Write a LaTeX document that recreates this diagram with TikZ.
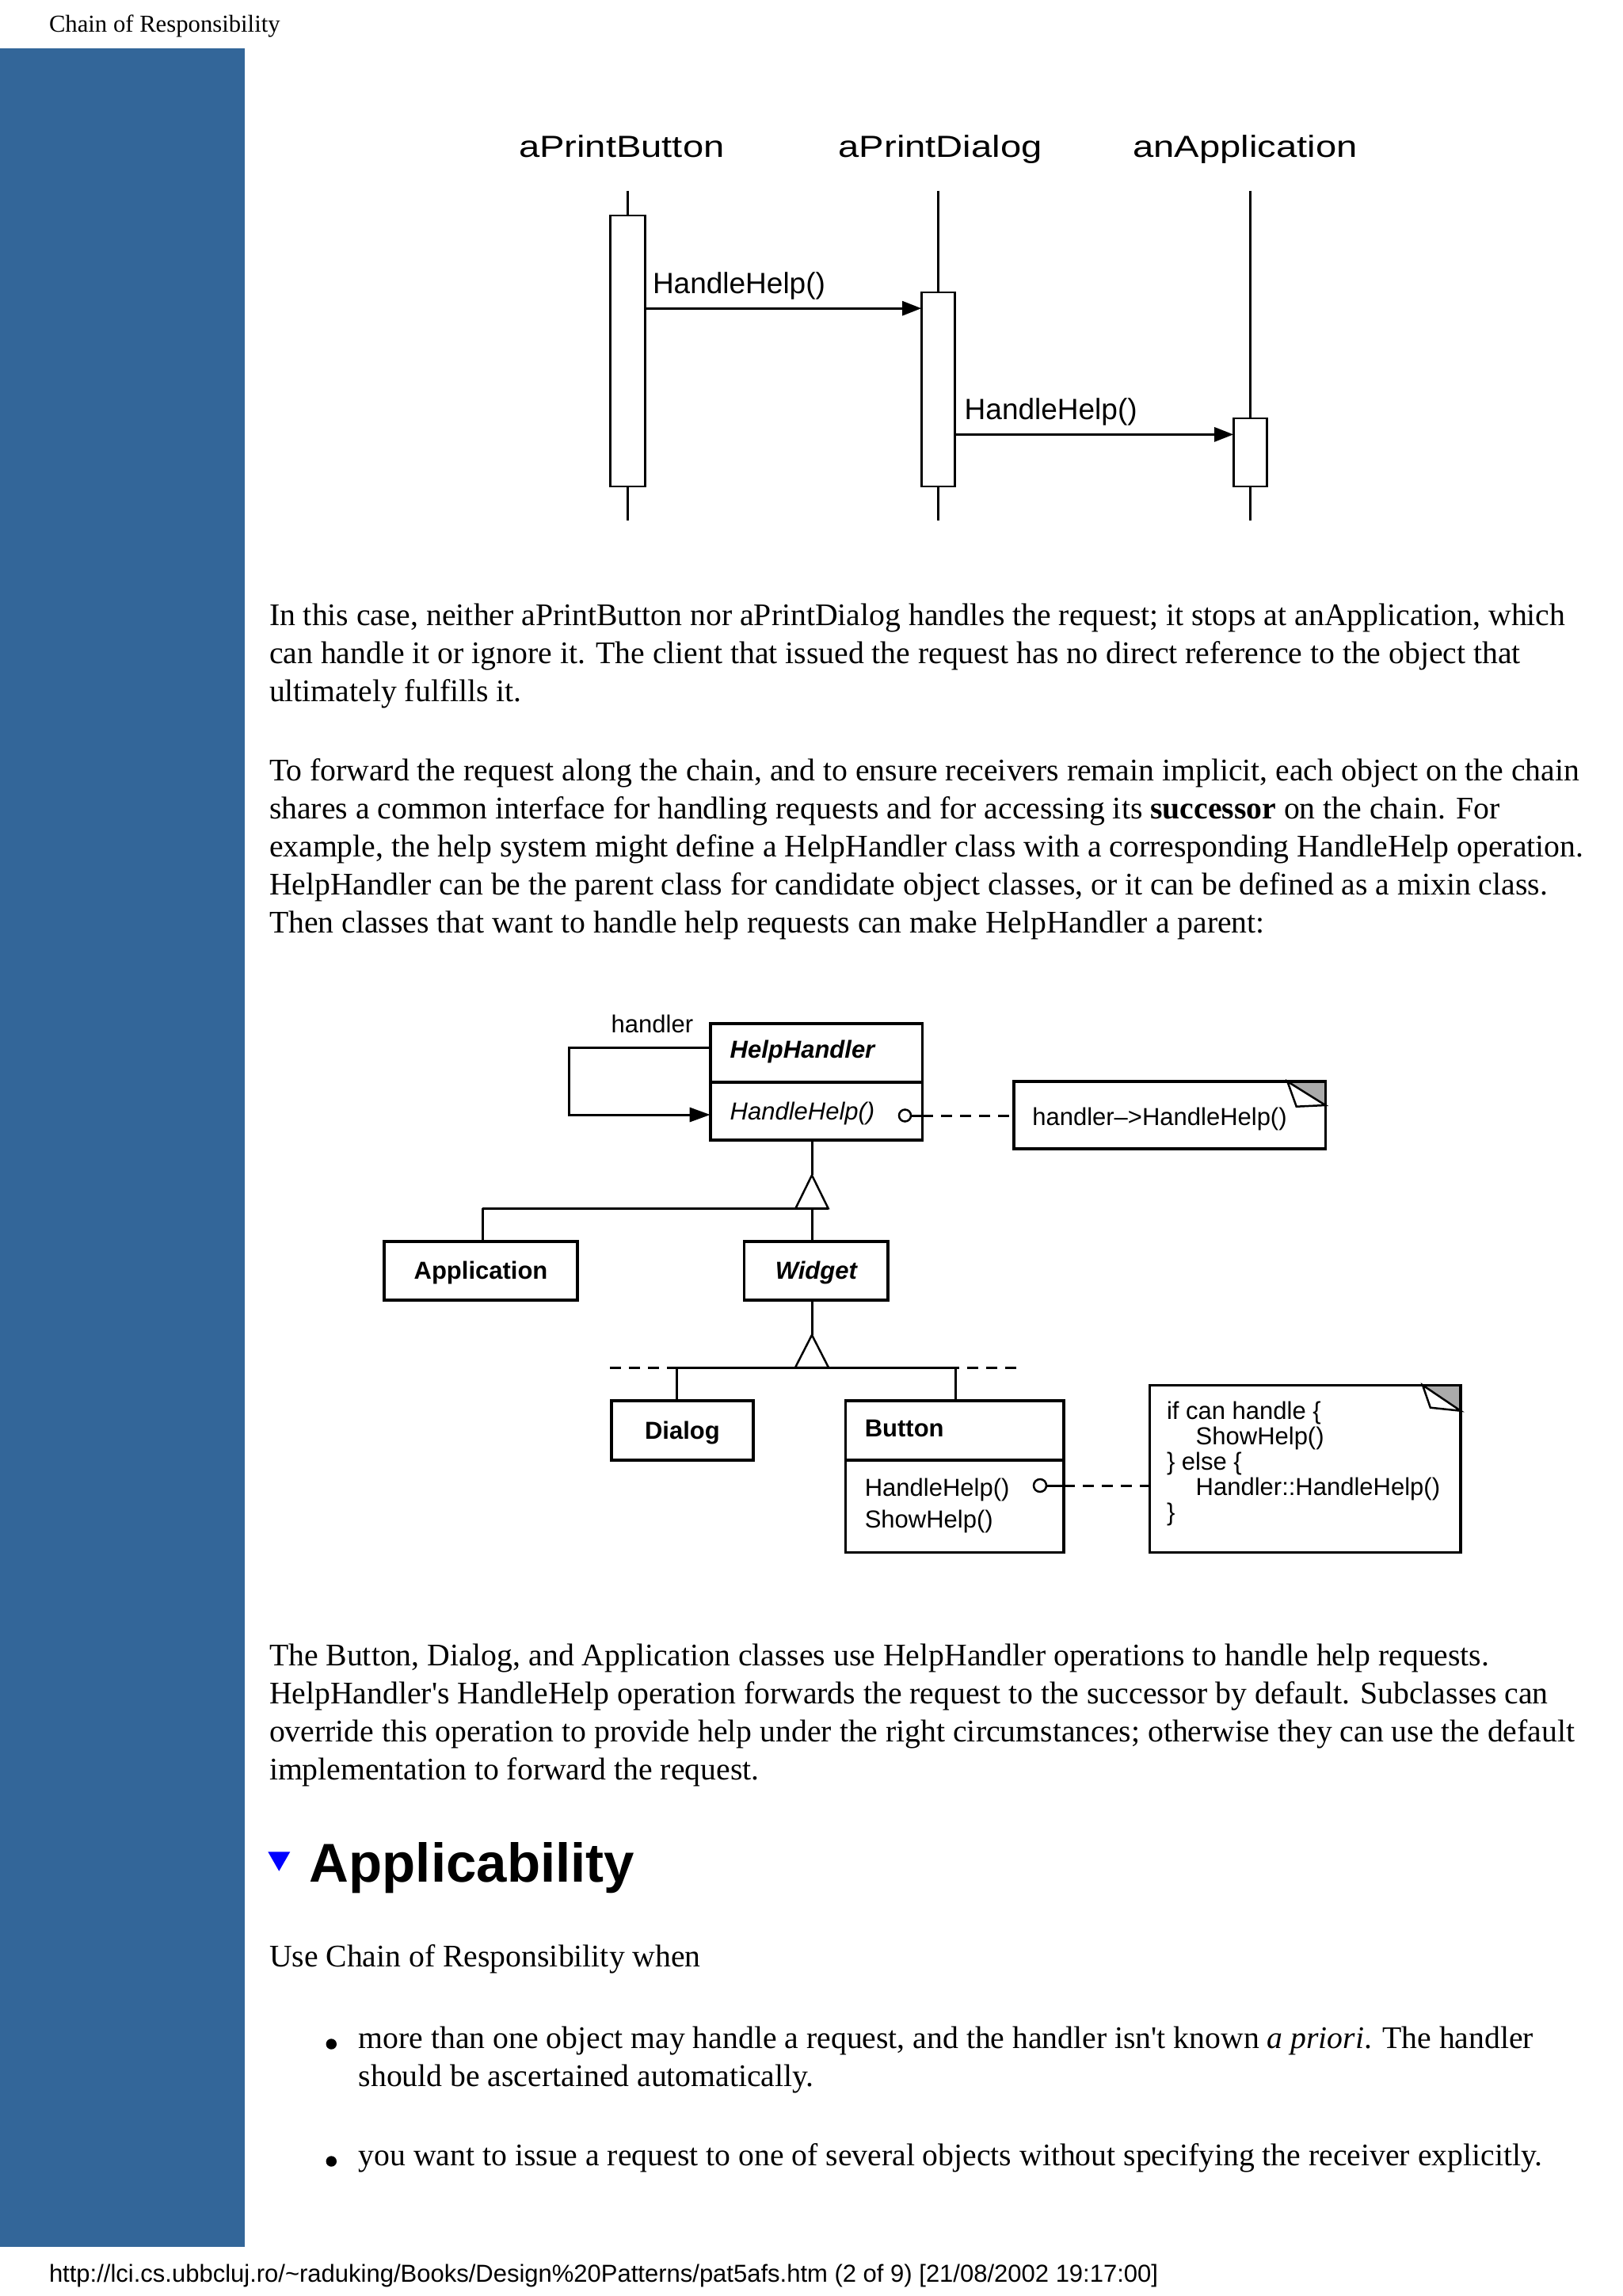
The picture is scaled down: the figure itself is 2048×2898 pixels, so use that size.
\documentclass[tikz,border=0pt]{standalone}
\usepackage{fontspec}
\setmainfont{Liberation Serif}
\newfontfamily\arial{Liberation Sans}
\newfontfamily\arialwide[FakeStretch=1.225]{Liberation Sans}
\usetikzlibrary{arrows.meta}
\definecolor{barblue}{RGB}{51,102,153}
\definecolor{cornergrey}{RGB}{170,170,170}
\newcommand\setfs[1]{\fontsize{#1}{#1}\selectfont}
\begin{document}
\begin{tikzpicture}[x=1pt,y=-1pt,
  txt/.style={anchor=base west, inner sep=0pt, outer sep=0pt},
  body/.style={txt, font=\setfs{39.7}},
  seqhead/.style={txt, font=\arialwide\setfs{38.5}},
  seqlbl/.style={txt, font=\arial\setfs{37}},
  actbox/.style={draw, line width=2.8pt, fill=white, inner sep=0pt, outer sep=0pt},
  lifeline/.style={line width=2.8pt},
  msg/.style={line width=2.8pt, -{Triangle[length=24pt,width=18pt]}},
  boxonly/.style={draw, line width=3.6pt, fill=white, inner sep=0pt, outer sep=0pt},
  cls/.style={boxonly, font=\arial\bfseries\setfs{31}, text height=22pt, text depth=0pt},
  ctext/.style={txt, font=\arial\setfs{31}},
  conn/.style={line width=3pt},
  gen/.style={line width=2.5pt, fill=white, line join=miter},
  dashline/.style={line width=3pt, dash pattern=on 14pt off 10pt},
  lolli/.style={draw, circle, line width=2.5pt, minimum size=15pt, inner sep=0pt, outer sep=0pt, fill=white},
  flap/.style={fill=white, draw, line width=2.5pt, line join=miter}
]
\useasboundingbox (0,0) rectangle (2048,2898);
\fill[white] (0,0) rectangle (2048,2898);

% header, side bar, footer
\node[txt, font=\setfs{30.7}] (hdr) at (62,40.7) {Chain of Responsibility};
\fill[barblue] (0,61) rectangle (309,2836);
\node[txt, font=\arial\setfs{31}] (ftr) at (62,2880) {http://lci.cs.ubbcluj.ro/\textasciitilde raduking/Books/Design\%20Patterns/pat5afs.htm (2 of 9) [21/08/2002 19:17:00]};

% ---------------- sequence diagram ----------------
\node[seqhead] (hB) at (655,198.3) {aPrintButton};
\node[seqhead] (hD) at (1058.6,198.3) {aPrintDialog};
\node[seqhead] (hA) at (1430.4,198.3) {anApplication};

\coordinate (l1t) at (792.5,240.5);  \coordinate (l1b) at (792.5,657);
\coordinate (l2t) at (1184.5,240.5); \coordinate (l2b) at (1184.5,657);
\coordinate (l3t) at (1578.5,240.5); \coordinate (l3b) at (1578.5,657);

\node[actbox, minimum width=43.3, minimum height=342] (b1) at (792.5,443) {};
\node[actbox, minimum width=42.6, minimum height=245.1] (b2) at (1184.5,491.45) {};
\node[actbox, minimum width=42.6, minimum height=86] (b3) at (1578.5,571) {};

\draw[lifeline] (l1t) -- (b1.north);  \draw[lifeline] (b1.south) -- (l1b);
\draw[lifeline] (l2t) -- (b2.north);  \draw[lifeline] (b2.south) -- (l2b);
\draw[lifeline] (l3t) -- (b3.north);  \draw[lifeline] (b3.south) -- (l3b);

\coordinate (m1) at (0,389.2);
\coordinate (m2) at (0,548.4);
\draw[msg] (b1.east |- m1) -- (b2.west |- m1);
\draw[msg] (b2.east |- m2) -- (b3.west |- m2);
\node[seqlbl] (lbl1) at (824,370.3) {HandleHelp()};
\node[seqlbl] (lbl2) at (1217.7,529.2) {HandleHelp()};

% ---------------- body text ----------------
\node[body] (p1a) at (340,789.3) {In this case, neither aPrintButton nor aPrintDialog handles the request; it stops at anApplication, which};
\node[body] (p1b) at (340,837.3) {can handle it or ignore it. The client that issued the request has no direct reference to the object that};
\node[body] (p1c) at (340,885.3) {ultimately fulfills it.};

\node[body] (p2a) at (340,985) {To forward the request along the chain, and to ensure receivers remain implicit, each object on the chain};
\node[body] (p2b) at (340,1033) {shares a common interface for handling requests and for accessing its \textbf{successor} on the chain. For};
\node[body] (p2c) at (340,1081) {example, the help system might define a HelpHandler class with a corresponding HandleHelp operation.};
\node[body] (p2d) at (340,1129) {HelpHandler can be the parent class for candidate object classes, or it can be defined as a mixin class.};
\node[body] (p2e) at (340,1177) {Then classes that want to handle help requests can make HelpHandler a parent:};

% ---------------- class diagram ----------------
\node[boxonly, minimum width=267.6, minimum height=73.7] (hh) at (1030.5,1328.85) {};
\node[boxonly, minimum width=267.6, minimum height=73.3] (hhb) at (1030.5,1402.35) {};
\node[ctext, font=\arial\bfseries\itshape\setfs{31}] (hhn) at (921.7,1335) {HelpHandler};
\node[ctext, font=\arial\itshape\setfs{31}] (hhop) at (921.7,1413.3) {HandleHelp()};
\node[ctext] (hlab) at (771.7,1303.3) {handler};

\coordinate (lpT) at (718.5,1322.3);
\coordinate (lpB) at (718.5,1407);
\draw[conn, -{Triangle[length=26pt,width=18pt]}] (hh.west |- lpT) -- (lpT) -- (lpB) -- (hhb.west |- lpB);

\node[lolli] (lol1) at (1142.5,1408) {};
\node[boxonly, minimum width=393.3, minimum height=85] (n1) at (1476.65,1407.5) {};
\fill[cornergrey] (1625.3,1365) -- (1673.3,1365) -- (1673.3,1395) -- cycle;
\draw[line width=3.6pt] (n1.south west) rectangle (n1.north east);
\draw[flap] (1625.3,1365) -- (1636.7,1396.7) -- (1673.3,1395) -- cycle;
\node[ctext] (n1t) at (1303.3,1420) {handler\textendash{}>HandleHelp()};
\draw[conn] (lol1.east) -- (hhb.east |- lol1);
\draw[dashline] (hhb.east |- lol1) -- (n1.west |- lol1);

% generalization 1
\coordinate (t1apex) at (1025,1483.3);
\coordinate (t1L) at (1004.5,1525);
\coordinate (t1R) at (1045.5,1525);
\coordinate (bar1L) at (609.4,1525);
\node[cls, minimum width=244, minimum height=74.3] (app) at (607,1603.85) {Application};
\node[cls, font=\arial\bfseries\itshape\setfs{31}, minimum width=181.7, minimum height=74.3] (wid) at (1030.35,1603.85) {Widget};
\draw[conn] (t1apex |- hhb.south) -- (t1apex);
\draw[conn] (bar1L) -- (t1R);
\draw[conn] (bar1L) -- (bar1L |- app.north);
\draw[conn] (t1apex |- t1L) -- (t1apex |- wid.north);
\draw[gen] (t1apex) -- (t1L) -- (t1R) -- cycle;

% generalization 2
\coordinate (t2apex) at (1025,1685);
\coordinate (t2L) at (1004,1726);
\coordinate (t2R) at (1046,1726);
\coordinate (bar2L) at (854.6,1726);
\coordinate (bar2R) at (1206.6,1726);
\coordinate (dashL) at (770.4,1726);
\coordinate (dashR) at (1283.2,1726);
\node[cls, minimum width=179.1, minimum height=75] (dlg) at (861.45,1805.2) {Dialog};
\node[boxonly, minimum width=275.5, minimum height=75] (btn) at (1205.05,1805.2) {};
\node[boxonly, minimum width=275.5, minimum height=116.6] (btnb) at (1205.05,1901) {};
\node[ctext, font=\arial\bfseries\setfs{31}] (btnn) at (1091.8,1813.3) {Button};
\node[ctext] (btno1) at (1091.8,1888.3) {HandleHelp()};
\node[ctext] (btno2) at (1091.8,1928.3) {ShowHelp()};
\draw[conn] (t2apex |- wid.south) -- (t2apex);
\draw[conn] (bar2L) -- (bar2R);
\draw[dashline] (dashL) -- (bar2L);
\draw[dashline] (dashR) -- (bar2R);
\draw[conn] (bar2L) -- (bar2L |- dlg.north);
\draw[conn] (bar2R) -- (bar2R |- btn.north);
\draw[gen] (t2apex) -- (t2L) -- (t2R) -- cycle;

\node[lolli, minimum size=16pt] (lol2) at (1313,1875) {};
\node[boxonly, minimum width=392.5, minimum height=211] (n2) at (1647.75,1853.8) {};
\fill[cornergrey] (1796,1748.3) -- (1844,1748.3) -- (1844,1780.7) -- cycle;
\draw[line width=3.6pt] (n2.south west) rectangle (n2.north east);
\draw[flap] (1796,1748.3) -- (1805.8,1776.7) -- (1844,1780.7) -- cycle;
\draw[conn] (lol2.east) -- (btnb.east |- lol2);
\draw[dashline] (btnb.east |- lol2) -- (n2.west |- lol2);
\node[ctext] (n2a) at (1473,1791.5) {if can handle \{};
\node[ctext] (n2b) at (1509.7,1823.5) {ShowHelp()};
\node[ctext] (n2c) at (1473,1855.5) {\} else \{};
\node[ctext] (n2d) at (1509.7,1887.5) {Handler::HandleHelp()};
\node[ctext] (n2e) at (1473,1919.5) {\}};

% ---------------- lower text ----------------
\node[body] (p3a) at (340,2102) {The Button, Dialog, and Application classes use HelpHandler operations to handle help requests.};
\node[body] (p3b) at (340,2150) {HelpHandler\textquotesingle s HandleHelp operation forwards the request to the successor by default. Subclasses can};
\node[body] (p3c) at (340,2198) {override this operation to provide help under the right circumstances; otherwise they can use the default};
\node[body] (p3d) at (340,2246) {implementation to forward the request.};

\fill[blue] (338.3,2337.3) -- (366.3,2337.3) -- (352.3,2361.7) -- cycle;
\node[txt, font=\arial\bfseries\setfs{69}] (apph) at (390.8,2375) {Applicability};

\node[body] (use) at (340,2482) {Use Chain of Responsibility when};

\fill (418.3,2580) circle (6.7);
\node[body] (bl1a) at (452.7,2585.5) {more than one object may handle a request, and the handler isn\textquotesingle t known \textit{a priori}. The handler};
\node[body] (bl1b) at (452.7,2633) {should be ascertained automatically.};
\fill (418.3,2728) circle (6.7);
\node[body] (bl2) at (452.7,2733) {you want to issue a request to one of several objects without specifying the receiver explicitly.};
\end{tikzpicture}
\end{document}
